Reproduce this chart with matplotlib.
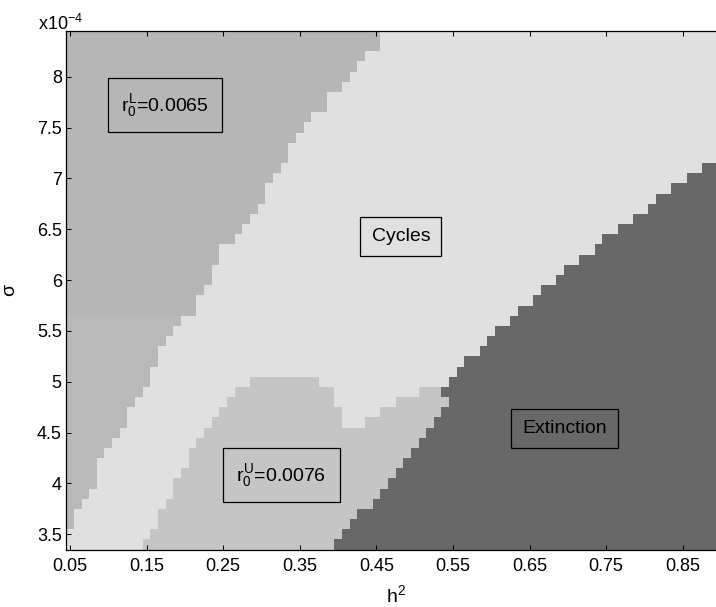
import numpy as np
import matplotlib.pyplot as plt
from matplotlib.colors import ListedColormap

plt.rcParams['font.family'] = ['Liberation Sans', 'DejaVu Sans']
plt.rcParams['mathtext.fontset'] = 'custom'
plt.rcParams['mathtext.rm'] = 'Liberation Sans'
plt.rcParams['mathtext.it'] = 'Liberation Sans'
plt.rcParams['mathtext.bf'] = 'Liberation Sans:bold'

# grid of the parameter scan
h2 = np.round(np.arange(0.05, 0.895, 0.01), 2)      # heritability h^2
sigma = np.round(np.arange(3.4, 8.45, 0.1), 1)      # sigma, x1e-4

# per sigma row (3.4 ... 8.4): last h^2 column of the r0^L region (0 = none)
l_last = [0.00, 0.00, 0.05, 0.05, 0.06, 0.07, 0.08, 0.08, 0.08, 0.09,
          0.10, 0.11, 0.12, 0.12, 0.13, 0.14, 0.15, 0.15, 0.16, 0.16,
          0.17, 0.18, 0.19, 0.21, 0.21, 0.22, 0.23, 0.23, 0.24, 0.24,
          0.26, 0.27, 0.28, 0.29, 0.30, 0.30, 0.31, 0.32, 0.33, 0.33,
          0.34, 0.35, 0.36, 0.38, 0.38, 0.40, 0.41, 0.42, 0.43, 0.45,
          0.45]
# per sigma row: first h^2 column of extinction (1 = none)
ext_first = [0.40, 0.41, 0.42, 0.43, 0.45, 0.46, 0.47, 0.48, 0.49, 0.50,
             0.51, 0.52, 0.53, 0.54, 0.55, 0.54, 0.55, 0.56, 0.57, 0.59,
             0.60, 0.61, 0.63, 0.64, 0.66, 0.67, 0.69, 0.70, 0.72, 0.74,
             0.75, 0.77, 0.79, 0.81, 0.82, 0.84, 0.86, 0.88] + [1.0] * 13

# r0^U region, sigma rows 3.4 ... 5.0
u_first = [0.15, 0.16, 0.17, 0.17, 0.18, 0.19, 0.19, 0.20, 0.21, 0.21,
           0.22, 0.23, 0.24, 0.25, 0.26, 0.27, 0.29]
# light notch inside the r0^U region (cycles), nan = no notch
notch_first = [np.nan] * 12 + [0.41, 0.41, 0.40, 0.40, 0.38]
notch_last = [np.nan] * 12 + [0.43, 0.45, 0.47, 0.50, 1.0]

l_split = 5.65   # slight shade change inside the r0^L region

labels = ['$r_0^L$=0.0065', 'Cycles', '$r_0^U$=0.0076', 'Extinction']
label_x = [0.174, 0.482, 0.326, 0.696]
label_y = [7.72, 6.43, 4.08, 4.54]
label_pad = [0.7, 0.58, 0.7, 0.58]

colors = ['#b6b6b6', '#b9b9b9', '#e0e0e0', '#c5c5c5', '#686868']

eps = 1e-6
Z = np.full((len(sigma), len(h2)), 2)
for i, s in enumerate(sigma):
    Z[i, h2 <= l_last[i] + eps] = 0 if s > l_split else 1
    if i < len(u_first):
        m = (h2 >= u_first[i] - eps)
        if not np.isnan(notch_first[i]):
            m &= ~((h2 >= notch_first[i] - eps) & (h2 <= notch_last[i] + eps))
        Z[i, m] = 3
    Z[i, h2 >= ext_first[i] - eps] = 4

fig = plt.figure(figsize=(7.16, 6.07), dpi=100)
ax = fig.add_axes([66.2 / 716, 1 - 549.6 / 607, 651 / 716, 518.7 / 607])
ax.pcolormesh(h2, sigma, Z, shading='nearest', cmap=ListedColormap(colors),
              vmin=-0.5, vmax=4.5)

for t, x, y, p in zip(labels, label_x, label_y, label_pad):
    ax.text(x, y, t, ha='center', va='center', fontsize=14,
            bbox=dict(boxstyle='square,pad=%g' % p, fc='none', ec='black', lw=0.9))

ax.set_xlim(0.045, 0.895)
ax.set_ylim(3.35, 8.45)
xt = np.round(np.arange(0.05, 0.9, 0.1), 2)
ax.set_xticks(xt)
ax.set_xticklabels(['%.2f' % v for v in xt])
yt = np.arange(3.5, 8.01, 0.5)
ax.set_yticks(yt)
ax.set_yticklabels(['%g' % v for v in yt])
ax.tick_params(direction='in', length=3.6, width=0.75, labelsize=13,
               top=True, right=False)
ax.tick_params(axis='x', pad=6.0)
ax.tick_params(axis='y', pad=3.2)
ax.spines['right'].set_visible(False)
for sp in ['left', 'top', 'bottom']:
    ax.spines[sp].set_linewidth(0.9)

ax.set_xlabel('h$^2$', fontsize=14)
ax.xaxis.set_label_coords(0.506, -0.066)
ax.set_ylabel('σ', fontsize=14)
ax.yaxis.set_label_coords(-0.074, 0.5)
fig.text(38 / 716, 1 - 29.5 / 607, 'x10$^{-4}$', fontsize=13, va='baseline')

fig.savefig('out.png', dpi=100)
